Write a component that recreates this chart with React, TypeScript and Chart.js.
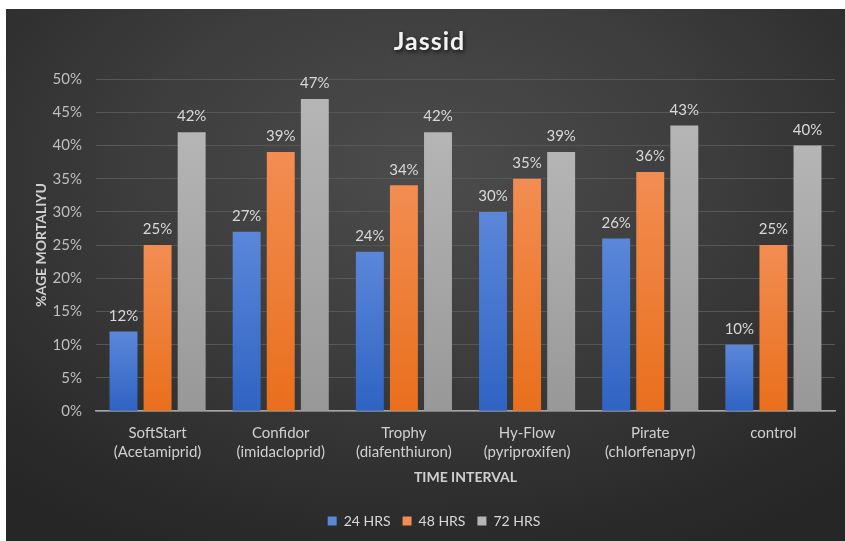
import { useEffect, useRef } from "react";
import { Chart, registerables } from "chart.js";

Chart.register(...registerables);

const categories: string[][] = [
  ["SoftStart", "(Acetamiprid)"],
  ["Confidor", "(imidacloprid)"],
  ["Trophy", "(diafenthiuron)"],
  ["Hy-Flow", "(pyriproxifen)"],
  ["Pirate", "(chlorfenapyr)"],
  ["control"],
];
const seriesNames = ["24 HRS", "48 HRS", "72 HRS"];
const hrs24 = [12, 27, 24, 30, 26, 10];
const hrs48 = [25, 39, 34, 35, 36, 25];
const hrs72 = [42, 47, 42, 39, 43, 40];
const yMax = 50;
const yStep = 5;

const FONT = "Lato, 'Open Sans', sans-serif";

// top / bottom colours of each series' bar gradient
const barColours: [string, string][] = [
  ["#5b87d9", "#2f63c3"],
  ["#f28d52", "#e96f1c"],
  ["#b5b5b5", "#989898"],
];

function barGradient(ctx: any, idx: number) {
  const chart = ctx.chart;
  const [top, bottom] = barColours[idx];
  const y = chart.scales?.y;
  if (!y || ctx.parsed == null) return bottom;
  const yTop = y.getPixelForValue(ctx.parsed.y);
  const yBot = y.getPixelForValue(0);
  if (!isFinite(yTop) || !isFinite(yBot) || yTop === yBot) return bottom;
  const g = chart.ctx.createLinearGradient(0, yTop, 0, yBot);
  g.addColorStop(0, top);
  g.addColorStop(1, bottom);
  return g;
}

// value labels above each bar
const valueLabels = {
  id: "valueLabels",
  afterDatasetsDraw(chart: any) {
    const c = chart.ctx;
    c.save();
    c.font = `15px ${FONT}`;
    c.fillStyle = "#d9d9d9";
    c.textAlign = "center";
    c.textBaseline = "bottom";
    chart.data.datasets.forEach((ds: any, i: number) => {
      const meta = chart.getDatasetMeta(i);
      meta.data.forEach((bar: any, j: number) => {
        c.fillText(`${ds.data[j]}%`, bar.x, bar.y - 8);
      });
    });
    c.restore();
  },
};

// chart heading with a soft drop shadow
const heading = {
  id: "heading",
  afterDraw(chart: any) {
    const c = chart.ctx;
    c.save();
    c.font = `bold 25px ${FONT}`;
    (c as any).letterSpacing = "1px";
    c.fillStyle = "#f2f2f2";
    c.textAlign = "center";
    c.textBaseline = "middle";
    c.shadowColor = "rgba(0,0,0,0.75)";
    c.shadowBlur = 4;
    c.shadowOffsetX = 1;
    c.shadowOffsetY = 2;
    c.fillText("Jassid", chart.width / 2 + 4, 33);
    c.restore();
  },
};

export default function App() {
  const ref = useRef<HTMLCanvasElement | null>(null);

  useEffect(() => {
    if (!ref.current) return;
    const data = [hrs24, hrs48, hrs72];
    const chart = new Chart(ref.current, {
      type: "bar",
      data: {
        labels: categories,
        datasets: seriesNames.map((name, i) => ({
          label: name,
          data: data[i],
          backgroundColor: (ctx: any) => barGradient(ctx, i),
          borderWidth: 0,
          categoryPercentage: 0.83,
          barPercentage: 0.82,
        })),
      },
      options: {
        animation: false,
        responsive: false,
        maintainAspectRatio: false,
        layout: { padding: { top: 70, left: 27, right: 10, bottom: 3 } },
        plugins: {
          title: { display: false },
          tooltip: { enabled: false },
          legend: {
            position: "bottom",
            labels: {
              color: "#d9d9d9",
              font: { family: FONT, size: 14 },
              boxWidth: 9,
              boxHeight: 9,
              padding: 12,
              generateLabels: (ch: any) =>
                ch.data.datasets.map((ds: any, i: number) => ({
                  text: ds.label,
                  fillStyle: barColours[i][0],
                  strokeStyle: barColours[i][0],
                  lineWidth: 0,
                  fontColor: "#d9d9d9",
                  datasetIndex: i,
                  hidden: false,
                })),
            },
          },
        },
        scales: {
          x: {
            grid: { display: false, drawTicks: false },
            border: { display: true, color: "#a6a6a6", width: 1.5 },
            ticks: {
              color: "#d0d0d0",
              font: { family: FONT, size: 15, lineHeight: 1.3 },
              padding: 12,
              maxRotation: 0,
              autoSkip: false,
            },
            title: {
              display: true,
              text: "TIME INTERVAL",
              color: "#d0d0d0",
              font: { family: FONT, size: 14, weight: "bold" },
              padding: { top: -5, bottom: 16 },
            },
          },
          y: {
            min: 0,
            max: yMax,
            grid: { color: "#575757", lineWidth: 1, drawTicks: false },
            border: { display: false },
            ticks: {
              stepSize: yStep,
              color: "#bfbfbf",
              font: { family: FONT, size: 15 },
              padding: 14,
              callback: (v: any) => `${v}%`,
            },
            title: {
              display: true,
              text: "%AGE MORTALIYU",
              color: "#d0d0d0",
              font: { family: FONT, size: 14, weight: "bold" },
              padding: { top: 0, bottom: 4 },
            },
            afterFit: (s: any) => {
              s.width = 63;
            },
          },
        },
      },
      plugins: [valueLabels, heading],
    });
    return () => chart.destroy();
  }, []);

  return (
    <div
      style={{
        position: "fixed",
        left: 6,
        top: 9,
        width: 839,
        height: 532,
        background:
          "radial-gradient(ellipse 75% 80% at 50% 30%, #4c4c4c 0%, #3d3d3d 45%, #2b2b2b 85%, #262626 100%)",
      }}
    >
      <canvas ref={ref} width={839} height={532} style={{ display: "block" }} />
    </div>
  );
}
